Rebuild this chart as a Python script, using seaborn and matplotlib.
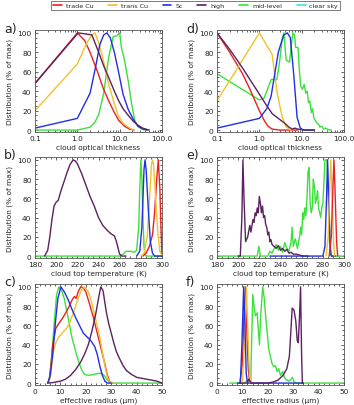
import matplotlib
matplotlib.use("Agg")
import matplotlib.pyplot as plt
from matplotlib.lines import Line2D
from matplotlib.ticker import MultipleLocator, FixedLocator, LogLocator, NullFormatter
import seaborn as sns

# ---- data ----
series_names = ["trade Cu", "trans Cu", "Sc", "high", "mid-level", "clear sky"]
series_colors = ["#ea2020", "#f2c12e", "#2030e0", "#5b2160", "#3ce03c", "#40e0e0"]

# a) cloud optical thickness, region 1
a_red_x = [0.1, 1.0, 1.5, 2.0, 3.0, 4.0, 5.5, 7.5, 9.5, 13, 17, 22]
a_red_y = [48, 100, 92, 80, 60, 44, 30, 18, 10, 4, 1, 0]
a_yel_x = [0.1, 1.0, 1.6, 2.2, 2.6, 3.2, 4.2, 5.5, 7.5, 9.5, 12, 16, 21]
a_yel_y = [20, 68, 88, 98, 100, 90, 70, 47, 27, 14, 7, 3, 0]
a_blu_x = [0.1, 1.0, 2.0, 2.7, 3.4, 4.2, 5.0, 6.0, 7.5, 9.5, 12, 16, 21, 27, 36, 45]
a_blu_y = [2, 12, 38, 65, 88, 98, 100, 95, 80, 59, 37, 21, 11, 4, 1, 0]
a_pur_x = [0.1, 1.05, 2.2, 3.2, 4.2, 5.5, 7.5, 9.5, 12, 16, 21, 27, 35, 45, 50]
a_pur_y = [48, 100, 98, 80, 66, 54, 40, 30, 22, 15, 9, 5, 2, 0.5, 0]
a_grn_x = [0.1, 1.0, 2.0, 2.6, 3.2, 4.2, 5.5, 7.0, 8.5, 10, 11, 13, 16, 19, 23, 28, 35, 45]
a_grn_y = [0, 0, 3, 8, 16, 38, 75, 96, 97, 100, 85, 72, 50, 28, 9, 3, 0.5, 0]

# d) cloud optical thickness, region 2
d_red_x = [0.1, 0.2, 0.4, 0.6, 1.0, 1.3, 1.6, 2.0, 3.0, 8.0]
d_red_y = [100, 80, 58, 42, 20, 10, 4, 1, 0, 0]
d_yel_x = [0.1, 1.0, 2.0, 2.6, 3.2, 3.7, 4.2, 5.0, 6.0]
d_yel_y = [30, 100, 78, 40, 20, 10, 4, 1, 0]
d_blu_x = [0.1, 1.0, 1.5, 1.9, 2.2, 2.8, 3.3, 3.8, 4.6, 5.4, 6.5, 7.8, 9.3, 11, 20]
d_blu_y = [2, 12, 22, 35, 52, 80, 90, 98, 100, 95, 57, 13, 2, 0, 0]
d_pur_x = [0.1, 0.2, 0.4, 0.6, 1.0, 1.4, 2.0, 2.8, 4.0, 5.0, 6.0, 7.0, 8.0, 10, 13, 20]
d_pur_y = [100, 83, 64, 52, 37, 27, 17, 12, 7, 3, 1, 2, 1, 0.5, 0, 0]
d_grn_x = [0.1, 1.0, 1.3, 1.9, 2.6, 3.0, 3.5, 3.8, 4.3, 5.2, 5.6, 6.2, 6.8, 7.2, 8.2, 8.8,
           9.5, 10.5, 11.5, 12.5, 13.5, 14.5, 15.5, 17, 18, 19.5, 21, 23, 25, 27, 30, 33,
           37, 42, 50]
d_grn_y = [58, 31, 33, 52, 52, 70, 95, 100, 72, 70, 85, 100, 98, 85, 85, 62,
           45, 42, 47, 38, 40, 28, 30, 18, 22, 12, 10, 7, 6, 3, 4, 1,
           2, 0.5, 0]

# b) cloud top temperature, region 1
b_red_x = [282, 285, 288, 291, 293, 295, 296.5, 298, 299, 300]
b_red_y = [0, 3, 10, 22, 45, 80, 100, 70, 30, 0]
b_yel_x = [280, 283, 286, 288, 290, 291, 292, 294, 296, 298, 300]
b_yel_y = [0, 3, 20, 55, 95, 100, 95, 60, 25, 5, 0]
b_blu_x = [276, 279, 281, 283, 284, 285, 287, 289, 291, 293, 300]
b_blu_y = [0, 5, 30, 90, 100, 90, 50, 15, 3, 0, 0]
b_pur_x = [189, 192, 194, 196, 198, 200, 202, 204, 207, 210, 213, 216, 218, 220, 224, 228,
           232, 236, 240, 244, 248, 252, 255, 257, 259, 260, 262, 266]
b_pur_y = [0, 6, 20, 38, 52, 56, 58, 66, 76, 86, 95, 100, 99, 96, 86, 74,
           62, 52, 40, 32, 27, 23, 21, 15, 6, 2, 0, 0]
b_grn_x = [180, 260, 263, 266, 270, 274, 276, 278, 279, 280, 281, 282, 283, 284, 285, 300]
b_grn_y = [0, 0, 2, 5, 5, 4, 6, 30, 70, 100, 80, 40, 10, 2, 0, 0]

# e) cloud top temperature, region 2
e_red_x = [286, 288, 289.5, 290.5, 291.5, 293, 294]
e_red_y = [0, 20, 70, 100, 70, 15, 0]
e_yel_x = [283, 285, 286.5, 287.5, 288.5, 290, 291]
e_yel_y = [0, 20, 70, 100, 70, 20, 0]
e_blu_x = [230, 280, 282, 283.5, 284.5, 285.5, 287, 288, 292]
e_blu_y = [0, 0, 10, 60, 100, 60, 10, 0, 0]
e_pur_x = [200, 202, 203.5, 204.5, 205.5, 207, 209, 211, 212, 214, 215, 216, 217, 218, 219,
           220, 221, 222, 223, 224, 225, 226, 227, 228, 229, 230, 231, 232, 234, 236, 238,
           240, 242, 244, 246, 248, 250, 252, 255, 258, 262, 266]
e_pur_y = [0, 0, 40, 100, 60, 15, 20, 32, 25, 38, 35, 45, 42, 50, 45,
           62, 55, 45, 52, 40, 42, 33, 30, 22, 25, 15, 17, 12, 10, 8, 11,
           6, 8, 5, 7, 3, 4, 2, 2, 1, 0, 0]
e_grn_x = [180, 218, 219.5, 221, 228, 230, 232, 234, 236, 238, 240, 242, 244, 246, 248, 250,
           251, 252, 254, 256, 258, 259, 260, 261, 262, 263, 264, 265, 266, 267, 268, 269,
           270, 271, 272, 273, 274, 275, 276, 277, 278, 279, 280, 281, 282, 283, 284, 285,
           286, 287, 288, 300]
e_grn_y = [0, 0, 10, 0, 0, 5, 3, 8, 12, 6, 10, 4, 14, 8, 5, 15,
           30, 10, 18, 8, 20, 30, 22, 45, 38, 50, 42, 60, 88, 92, 55, 45,
           50, 80, 72, 55, 60, 68, 50, 45, 40, 50, 55, 75, 100, 100, 100, 70,
           20, 2, 0, 0]

# c) effective radius, region 1
c_red_x = [5, 5.8, 7, 8.2, 9.4, 11, 12.5, 13.5, 14.7, 15.5, 16.2, 17, 18, 19, 20, 21.5,
           23, 24.5, 26, 27.5, 28.5, 29.5, 30.5]
c_red_y = [0, 5, 40, 57, 62, 68, 75, 80, 87, 90, 88, 95, 100, 99, 95, 82,
           68, 52, 36, 20, 8, 1, 0]
c_yel_x = [5, 6, 7, 8.2, 9.4, 11, 12.5, 13.5, 14.7, 16, 17.5, 18.6, 19.5, 21, 22.5, 24,
           25.3, 26.5, 27.5, 28.5, 29.5, 30.5]
c_yel_y = [0, 5, 30, 42, 48, 53, 57, 62, 70, 80, 92, 98, 100, 95, 82, 65,
           50, 33, 18, 6, 1, 0]
c_blu_x = [5, 6, 7, 8, 9, 10.2, 11.5, 13, 14.5, 16, 17.5, 19, 20.5, 22, 23.5, 24.5, 25.5,
           26.5, 27.5, 28.5, 30]
c_blu_y = [0, 8, 30, 62, 88, 100, 95, 87, 77, 68, 60, 52, 48, 44, 38, 30, 18,
           8, 2, 0, 0]
c_pur_x = [5, 7, 10, 12, 14, 16, 18, 19.5, 21, 22.5, 24, 25, 25.9, 26.8, 28, 29, 30, 31,
           32, 33, 34.7, 36, 38, 40, 42, 44, 46, 48, 50]
c_pur_y = [0, 0.5, 2, 4, 8, 14, 22, 30, 40, 55, 73, 88, 100, 96, 75, 62, 52, 42,
           33, 27, 18, 13, 9, 6, 5, 4, 3, 2, 0]
c_grn_x = [5, 5.5, 6.5, 7.5, 8.5, 9.4, 10.5, 11.5, 12.5, 13.5, 14.5, 15.5, 16.5, 17.5, 18.5,
           19.5, 21, 23, 25, 26.5, 27.5, 28.5, 29.5, 31, 50]
c_grn_y = [0, 2, 25, 60, 92, 100, 96, 88, 75, 62, 48, 38, 28, 20, 13,
           9, 8, 9, 10, 10, 7, 3, 1, 0, 0]

# f) effective radius, region 2
f_red_x = [9, 10, 10.6, 11.2, 11.8, 12.3, 12.8, 13.5]
f_red_y = [0, 20, 70, 100, 50, 15, 3, 0]
f_yel_x = [10, 10.8, 11.6, 12.2, 12.8, 13.3]
f_yel_y = [0, 40, 100, 50, 10, 0]
f_blu_x = [8, 9.2, 9.8, 10.5, 11.0, 11.5, 12, 20, 34]
f_blu_y = [0, 0, 40, 100, 60, 10, 0, 0, 0]
f_pur_x = [9, 12, 12.5, 13, 13.5, 20, 22, 24, 26, 27.5, 28.5, 29.1, 29.6, 30.3, 31, 31.6,
           32, 32.5, 32.9, 33.3, 33.6, 34]
f_pur_y = [0, 0, 4, 2, 0, 0, 1, 3, 8, 15, 28, 55, 78, 76, 65, 44,
           42, 70, 100, 30, 0, 0]
f_grn_x = [5, 11, 12, 12.8, 13.3, 13.6, 14.1, 14.6, 15.1, 15.8, 16.3, 16.7, 17.2, 18, 18.6,
           19.3, 20.4, 21.7, 22.3, 23, 23.7, 24.3, 25, 25.9, 26.5, 27, 28.3, 29.2, 29.6,
           30.3, 31, 50]
f_grn_y = [0, 0, 3, 4, 2, 40, 92, 80, 70, 73, 55, 40, 70, 100, 88,
           65, 35, 20, 17, 18, 12, 15, 8, 12, 6, 4, 2, 4, 6,
           2, 0, 0]

# ---- figure ----
sns.set_style("ticks")
plt.rcParams["font.family"] = ["DejaVu Sans"]
plt.rcParams["axes.linewidth"] = 0.6

fig = plt.figure(figsize=(3.54, 4.06), dpi=100)

left_x, right_x = 35 / 354, 217 / 354
ax_w = 127 / 354
rows = [(133, 102), (259, 101), (386, 101)]  # bottom pixel, height in pixels


def make_ax(x0, row):
    bot, h = row
    return fig.add_axes([x0, 1 - bot / 406, ax_w, h / 406])


panels = [
    ("a)", left_x, rows[0], "tau",
     [(a_grn_x, a_grn_y, 4), (a_red_x, a_red_y, 0), (a_yel_x, a_yel_y, 1),
      (a_blu_x, a_blu_y, 2), (a_pur_x, a_pur_y, 3)]),
    ("d)", right_x, rows[0], "tau",
     [(d_grn_x, d_grn_y, 4), (d_red_x, d_red_y, 0), (d_yel_x, d_yel_y, 1),
      (d_blu_x, d_blu_y, 2), (d_pur_x, d_pur_y, 3)]),
    ("b)", left_x, rows[1], "ctt",
     [(b_grn_x, b_grn_y, 4), (b_pur_x, b_pur_y, 3), (b_red_x, b_red_y, 0),
      (b_yel_x, b_yel_y, 1), (b_blu_x, b_blu_y, 2)]),
    ("e)", right_x, rows[1], "ctt",
     [(e_grn_x, e_grn_y, 4), (e_pur_x, e_pur_y, 3), (e_blu_x, e_blu_y, 2),
      (e_yel_x, e_yel_y, 1), (e_red_x, e_red_y, 0)]),
    ("c)", left_x, rows[2], "re",
     [(c_grn_x, c_grn_y, 4), (c_red_x, c_red_y, 0), (c_yel_x, c_yel_y, 1),
      (c_blu_x, c_blu_y, 2), (c_pur_x, c_pur_y, 3)]),
    ("f)", right_x, rows[2], "re",
     [(f_grn_x, f_grn_y, 4), (f_red_x, f_red_y, 0), (f_yel_x, f_yel_y, 1),
      (f_blu_x, f_blu_y, 2), (f_pur_x, f_pur_y, 3)]),
]

fs = 5.3
for label, x0, row, kind, curves in panels:
    ax = make_ax(x0, row)
    for xs, ys, ci in curves:
        sns.lineplot(x=xs, y=ys, color=series_colors[ci], lw=1.0, ax=ax,
                     legend=False, sort=False, estimator=None)
    ax.set_ylim(-2, 103)
    ax.yaxis.set_major_locator(FixedLocator([0, 20, 40, 60, 80, 100]))
    ax.yaxis.set_minor_locator(MultipleLocator(5))
    if kind == "tau":
        ax.set_xscale("log")
        ax.set_xlim(0.1, 100)
        ax.set_xticks([0.1, 1, 10, 100])
        ax.set_xticklabels(["0.1", "1.0", "10.0", "100.0"])
        ax.xaxis.set_minor_locator(LogLocator(base=10, subs=range(2, 10)))
        ax.xaxis.set_minor_formatter(NullFormatter())
        ax.set_xlabel("cloud optical thickness", fontsize=fs, labelpad=1.5)
    elif kind == "ctt":
        ax.set_xlim(180, 300)
        ax.xaxis.set_major_locator(MultipleLocator(20))
        ax.xaxis.set_minor_locator(MultipleLocator(5))
        ax.set_xlabel("cloud top temperature (K)", fontsize=fs, labelpad=1.5)
    else:
        ax.set_xlim(0, 50)
        ax.xaxis.set_major_locator(MultipleLocator(10))
        ax.xaxis.set_minor_locator(MultipleLocator(2))
        ax.set_xlabel("effective radius (μm)", fontsize=fs, labelpad=1.5)
    ax.set_ylabel("Distribution (% of max)", fontsize=fs, labelpad=3)
    ax.tick_params(which="both", direction="in", top=True, right=True,
                   labelsize=fs, width=0.5, pad=2.5, colors="#222222")
    ax.tick_params(which="major", length=2.5)
    ax.tick_params(which="minor", length=1.3)
    for sp in ax.spines.values():
        sp.set_color("#555555")
    fig.text(x0 - 31 / 354, 1 - (row[0] - row[1] - 2) / 406, label, fontsize=9,
             ha="left", va="center")

handles = [Line2D([], [], color=c, lw=1.2) for c in series_colors]
leg = fig.legend(handles, series_names, loc="upper center", ncol=6,
                 bbox_to_anchor=(195.5 / 354, 1 - 2 / 406), fontsize=4.6,
                 frameon=True, fancybox=False, edgecolor="#444444",
                 handlelength=1.4, handletextpad=0.6, columnspacing=2.3,
                 borderpad=0.3, borderaxespad=0)
leg.get_frame().set_linewidth(0.6)

fig.savefig("out.png", dpi=100)
